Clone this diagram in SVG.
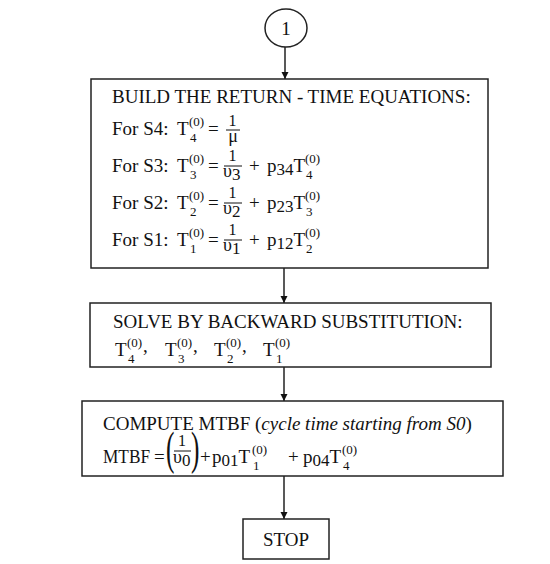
<svg xmlns="http://www.w3.org/2000/svg" width="550" height="564" viewBox="0 0 550 564">
<style>
text{font-family:"Liberation Serif","Times New Roman",serif;font-size:19px;fill:#111}
text.s{font-size:13px}
.d{font-size:17px}
text.n{font-size:16px}
text.g{font-size:18px}
text.mu{font-size:18px}
text.big{font-size:46px}
.box{fill:#fff;stroke:#222;stroke-width:1.5}
.bar{stroke:#111;stroke-width:1}
.con{stroke:#222;stroke-width:1.5;fill:none}
</style>
<defs>
<marker id="ah" viewBox="0 0 10 10" refX="10" refY="5" markerWidth="7" markerHeight="8" markerUnits="userSpaceOnUse" orient="auto">
<path d="M0,0 L10,5 L0,10 z" fill="#111"/>
</marker>
</defs>
<rect width="550" height="564" fill="#fff"/>
<g id="connectors">
<line class="con" x1="285" y1="47" x2="285" y2="79" marker-end="url(#ah)"/>
<line class="con" x1="284" y1="268" x2="284" y2="303" marker-end="url(#ah)"/>
<line class="con" x1="284" y1="367" x2="284" y2="401" marker-end="url(#ah)"/>
<line class="con" x1="284" y1="476" x2="284" y2="519" marker-end="url(#ah)"/>
</g>
<g id="start">
<ellipse class="box" cx="286" cy="28" rx="21" ry="19"/>
<text x="286" y="35" text-anchor="middle">1</text>
</g>
<g id="build">
<rect class="box" x="91" y="79" width="397" height="189"/>
<text x="112" y="103">BUILD THE RETURN - TIME EQUATIONS:</text>
<!-- S4 -->
<text x="112" y="135">For S4:</text>
<text x="177" y="135">T</text><text class="s" x="189" y="126">(0)</text><text class="s" x="190" y="142">4</text>
<text x="208" y="135">=</text>
<text class="n" x="232.5" y="126" text-anchor="middle">1</text>
<line class="bar" x1="226" y1="130" x2="240" y2="130"/>
<text class="mu" x="233" y="142" text-anchor="middle">μ</text>
<!-- S3 -->
<text x="112" y="172">For S3:</text>
<text x="177" y="172">T</text><text class="s" x="189" y="163">(0)</text><text class="s" x="190" y="179">3</text>
<text x="208" y="172">=</text>
<text class="n" x="232.5" y="161" text-anchor="middle">1</text>
<line class="bar" x1="224" y1="166" x2="242" y2="166"/>
<text class="g" x="223" y="177">υ<tspan class="d" dy="3">3</tspan></text>
<text x="249" y="172">+</text>
<text x="267" y="172">p<tspan class="d" dy="3">34</tspan><tspan dy="-3">T</tspan></text>
<text class="s" x="305" y="163">(0)</text><text class="s" x="306" y="179">4</text>
<!-- S2 -->
<text x="112" y="209">For S2:</text>
<text x="177" y="209">T</text><text class="s" x="189" y="200">(0)</text><text class="s" x="190" y="216">2</text>
<text x="208" y="209">=</text>
<text class="n" x="232.5" y="198" text-anchor="middle">1</text>
<line class="bar" x1="224" y1="203" x2="242" y2="203"/>
<text class="g" x="223" y="214">υ<tspan class="d" dy="3">2</tspan></text>
<text x="249" y="209">+</text>
<text x="267" y="209">p<tspan class="d" dy="3">23</tspan><tspan dy="-3">T</tspan></text>
<text class="s" x="305" y="200">(0)</text><text class="s" x="306" y="216">3</text>
<!-- S1 -->
<text x="112" y="246">For S1:</text>
<text x="177" y="246">T</text><text class="s" x="189" y="237">(0)</text><text class="s" x="190" y="253">1</text>
<text x="208" y="246">=</text>
<text class="n" x="232.5" y="235" text-anchor="middle">1</text>
<line class="bar" x1="224" y1="240" x2="242" y2="240"/>
<text class="g" x="223" y="251">υ<tspan class="d" dy="3">1</tspan></text>
<text x="249" y="246">+</text>
<text x="267" y="246">p<tspan class="d" dy="3">12</tspan><tspan dy="-3">T</tspan></text>
<text class="s" x="305" y="237">(0)</text><text class="s" x="306" y="253">2</text>
</g>
<g id="solve">
<rect class="box" x="90" y="303" width="401" height="64"/>
<text x="113" y="328">SOLVE BY BACKWARD SUBSTITUTION:</text>
<text x="115" y="356">T</text><text class="s" x="127" y="347">(0)</text><text class="s" x="128" y="363">4</text><text x="143" y="352">,</text>
<text x="165" y="356">T</text><text class="s" x="177" y="347">(0)</text><text class="s" x="178" y="363">3</text><text x="193" y="352">,</text>
<text x="214" y="356">T</text><text class="s" x="226" y="347">(0)</text><text class="s" x="227" y="363">2</text><text x="242" y="352">,</text>
<text x="263" y="356">T</text><text class="s" x="275" y="347">(0)</text><text class="s" x="276" y="363">1</text>
</g>
<g id="mtbf">
<rect class="box" x="82" y="401" width="421" height="75"/>
<text x="103" y="430">COMPUTE MTBF (<tspan font-style="italic">cycle time starting from S0</tspan>)</text>
<text x="103" y="463" textLength="47" lengthAdjust="spacingAndGlyphs">MTBF</text>
<text x="154" y="463">=</text>
<text class="big" transform="translate(166,464) scale(0.55,1)">(</text>
<text class="n" x="182" y="446" text-anchor="middle">1</text>
<line class="bar" x1="174" y1="451" x2="191" y2="451"/>
<text class="g" x="173" y="463">υ<tspan class="d" dy="3">0</tspan></text>
<text class="big" transform="translate(191,464) scale(0.55,1)">)</text>
<text x="200" y="463">+</text>
<text x="212" y="463">p<tspan class="d" dy="3">01</tspan><tspan dy="-3">T</tspan></text>
<text class="s" x="252" y="454">(0)</text><text class="s" x="253" y="470">1</text>
<text x="288" y="463">+</text>
<text x="303" y="463">p<tspan class="d" dy="3">04</tspan><tspan dy="-3">T</tspan></text>
<text class="s" x="342" y="454">(0)</text><text class="s" x="343" y="470">4</text>
</g>
<g id="stop">
<rect class="box" x="243" y="519" width="86" height="40"/>
<text x="286" y="546" text-anchor="middle">STOP</text>
</g>
</svg>
